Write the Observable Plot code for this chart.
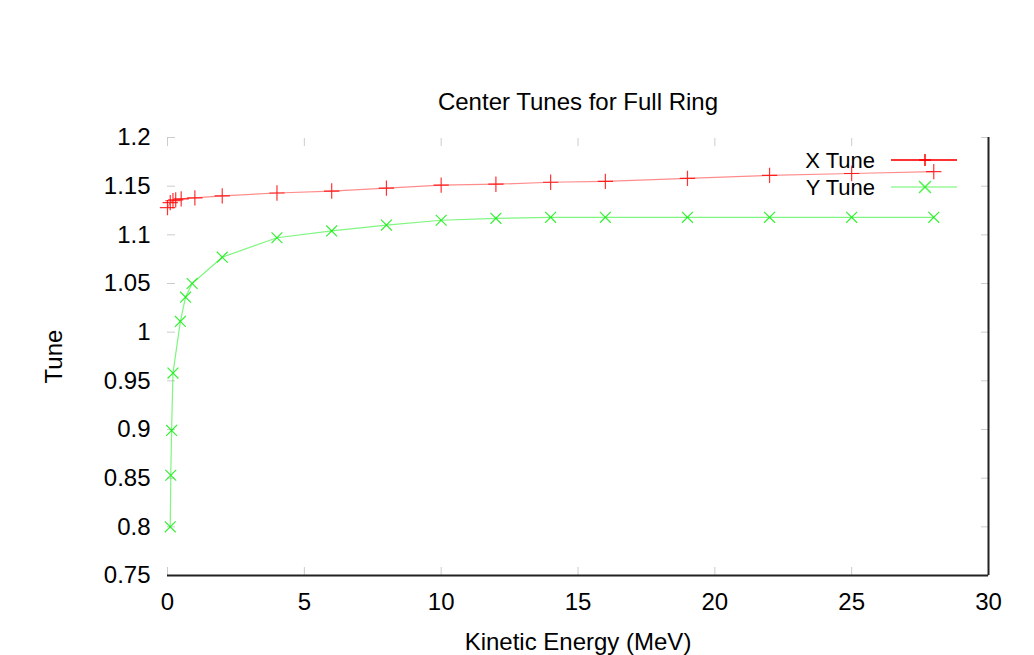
<!DOCTYPE html>
<html>
<head>
<meta charset="utf-8">
<script src="https://cdn.jsdelivr.net/npm/d3@7"></script>
<script src="https://cdn.jsdelivr.net/npm/@observablehq/plot@0.6"></script>
<style>
  html, body { margin: 0; padding: 0; background: #fff; }
  svg { font-family: "Liberation Sans", Arial, sans-serif; }
</style>
</head>
<body>
<div id="chart"></div>
<script>
// Data
const xTuneEnergy = [0, 0.1, 0.2, 0.3, 0.5, 1, 2, 4, 6, 8, 10, 12, 14, 16, 19, 22, 25, 28];
const xTuneValue  = [1.128, 1.133, 1.135, 1.136, 1.137, 1.138, 1.140, 1.143, 1.145, 1.148, 1.151, 1.152, 1.154, 1.155, 1.158, 1.161, 1.163, 1.165];

const yTuneEnergy = [0.1, 0.12, 0.15, 0.2, 0.47, 0.66, 0.9, 2, 4, 6, 8, 10, 12, 14, 16, 19, 22, 25, 28];
const yTuneValue  = [0.800, 0.853, 0.899, 0.958, 1.011, 1.036, 1.050, 1.077, 1.097, 1.104, 1.110, 1.115, 1.117, 1.118, 1.118, 1.118, 1.118, 1.118, 1.118];

const xTicks = [0, 5, 10, 15, 20, 25, 30];
const yTicks = [0.75, 0.8, 0.85, 0.9, 0.95, 1, 1.05, 1.1, 1.15, 1.2];

const seriesNames = ["X Tune", "Y Tune"];
const seriesColors = ["#ff0000", "#00ee00"];

const xData = xTuneEnergy.map((e, i) => ({energy: e, tune: xTuneValue[i]}));
const yData = yTuneEnergy.map((e, i) => ({energy: e, tune: yTuneValue[i]}));

const W = 1034, H = 655;
const mL = 167, mR = 46, mT = 137, mB = 80;
const fontSize = 24;

const plot = Plot.plot({
  width: W,
  height: H,
  marginLeft: mL,
  marginRight: mR,
  marginTop: mT,
  marginBottom: mB,
  style: {fontSize: fontSize + "px", fontFamily: "'Liberation Sans', Arial, sans-serif", color: "#000", background: "#fff"},
  x: {domain: [0, 30]},
  y: {domain: [0.75, 1.2]},
  marks: [
    // inward tick marks on all four sides
    Plot.axisX(xTicks, {anchor: "top", tickSize: -8, tickFormat: () => "", label: null, stroke: "#ccc"}),
    Plot.axisX(xTicks, {anchor: "bottom", tickSize: -8, tickFormat: () => "", label: null, stroke: "#ccc"}),
    Plot.axisY(yTicks, {anchor: "left", tickSize: -8, tickFormat: () => "", label: null, stroke: "#ccc"}),
    Plot.axisY(yTicks, {anchor: "right", tickSize: -8, tickFormat: () => "", label: null, stroke: "#ccc"}),
    // tick labels and axis titles
    Plot.axisX(xTicks, {anchor: "bottom", tickSize: 0, tickPadding: 17, tickFormat: d => String(d),
      label: "Kinetic Energy (MeV)", labelAnchor: "center", labelArrow: "none", labelOffset: 74}),
    Plot.axisY(yTicks, {anchor: "left", tickSize: 0, tickPadding: 17, tickFormat: d => String(+d.toFixed(2)),
      label: "Tune", labelAnchor: "center", labelArrow: "none", labelOffset: 123}),
    // border: bottom and right only
    Plot.ruleY([0.75], {stroke: "#222", strokeWidth: 2}),
    Plot.ruleX([30], {stroke: "#222", strokeWidth: 2}),
    // series
    Plot.line(xData, {x: "energy", y: "tune", stroke: seriesColors[0], strokeWidth: 1.2, strokeOpacity: 0.45}),
    Plot.dot(xData, {x: "energy", y: "tune", symbol: "plus", r: 5, stroke: seriesColors[0], strokeWidth: 1.2, strokeOpacity: 0.8}),
    Plot.line(yData, {x: "energy", y: "tune", stroke: seriesColors[1], strokeWidth: 1.2, strokeOpacity: 0.5}),
    Plot.dot(yData, {x: "energy", y: "tune", symbol: "times", r: 5, stroke: seriesColors[1], strokeWidth: 1.2, strokeOpacity: 0.8}),
    // title
    Plot.text(["Center Tunes for Full Ring"], {frameAnchor: "top", dy: -45, fontSize: fontSize, fill: "#000"})
  ]
});

// legend (top-right, inside the frame)
const svg = d3.select(plot);
const legendTextRight = 875, lineX1 = 891, lineX2 = 957;
const legendY = [160, 187];
seriesNames.forEach((name, i) => {
  const g = svg.append("g");
  g.append("text")
    .attr("x", legendTextRight).attr("y", legendY[i])
    .attr("text-anchor", "end").attr("dy", "0.35em")
    .attr("font-size", fontSize - 2).attr("fill", "#000")
    .text(name);
  g.append("line")
    .attr("x1", lineX1).attr("x2", lineX2)
    .attr("y1", legendY[i]).attr("y2", legendY[i])
    .attr("stroke", seriesColors[i]).attr("stroke-width", 2)
    .attr("stroke-opacity", i === 0 ? 0.8 : 0.3);
  const cx = (lineX1 + lineX2) / 2 + 1, s = 6;
  if (i === 0) {
    g.append("path").attr("d", `M${cx - s},${legendY[i]}H${cx + s}M${cx},${legendY[i] - s}V${legendY[i] + s}`)
      .attr("stroke", seriesColors[i]).attr("stroke-width", 1.5).attr("fill", "none");
  } else {
    g.append("path").attr("d", `M${cx - s},${legendY[i] - s}L${cx + s},${legendY[i] + s}M${cx - s},${legendY[i] + s}L${cx + s},${legendY[i] - s}`)
      .attr("stroke", seriesColors[i]).attr("stroke-width", 1.5).attr("fill", "none").attr("stroke-opacity", 0.7);
  }
});

document.getElementById("chart").appendChild(plot);
</script>
</body>
</html>
